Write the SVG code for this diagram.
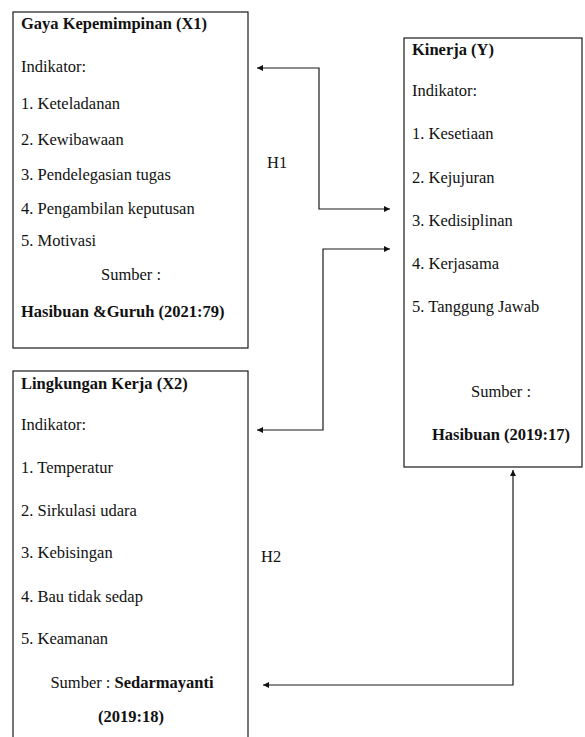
<svg xmlns="http://www.w3.org/2000/svg" width="585" height="737" viewBox="0 0 585 737">
<defs>
<style>
.box{fill:#fff;stroke:#1a1a1a;stroke-width:1.2}
.t{font-family:'Liberation Serif','Times New Roman','DejaVu Serif',serif;font-size:16.5px;fill:#111}
.b{font-weight:bold}
.c{text-anchor:middle}
.ln{fill:none;stroke:#1a1a1a;stroke-width:1.2}
</style>
<marker id="ah" viewBox="0 0 10 10" refX="10" refY="5" markerWidth="8" markerHeight="6" markerUnits="userSpaceOnUse" orient="auto-start-reverse">
<path d="M0,0 L10,5 L0,10 z" fill="#111"/>
</marker>
</defs>
<rect width="585" height="737" fill="#fff"/>
<g id="x1" class="t" font-family="Liberation Serif, serif">
<rect class="box" x="13" y="12" width="235" height="336"/>
<text class="b" x="21" y="29">Gaya Kepemimpinan (X1)</text>
<text x="21" y="72">Indikator:</text>
<text x="21" y="109">1. Keteladanan</text>
<text x="21" y="145">2. Kewibawaan</text>
<text x="21" y="180">3. Pendelegasian tugas</text>
<text x="21" y="214">4. Pengambilan keputusan</text>
<text x="21" y="246">5. Motivasi</text>
<text class="c" x="131" y="280">Sumber :</text>
<text class="b" x="21" y="317">Hasibuan &amp;Guruh (2021:79)</text>
</g>
<g id="y" class="t" font-family="Liberation Serif, serif">
<rect class="box" x="404" y="38" width="178" height="429"/>
<text class="b" x="412" y="55">Kinerja (Y)</text>
<text x="412" y="96">Indikator:</text>
<text x="412" y="139">1. Kesetiaan</text>
<text x="412" y="183">2. Kejujuran</text>
<text x="412" y="226">3. Kedisiplinan</text>
<text x="412" y="269">4. Kerjasama</text>
<text x="412" y="312">5. Tanggung Jawab</text>
<text class="c" x="501" y="397">Sumber :</text>
<text class="b c" x="501" y="440">Hasibuan (2019:17)</text>
</g>
<g id="x2" class="t" font-family="Liberation Serif, serif">
<rect class="box" x="13" y="371" width="235" height="380"/>
<text class="b" x="21" y="389">Lingkungan Kerja (X2)</text>
<text x="21" y="430">Indikator:</text>
<text x="21" y="473">1. Temperatur</text>
<text x="21" y="516">2. Sirkulasi udara</text>
<text x="21" y="558">3. Kebisingan</text>
<text x="21" y="602">4. Bau tidak sedap</text>
<text x="21" y="644">5. Keamanan</text>
<text class="c" x="132" y="688">Sumber : <tspan class="b">Sedarmayanti</tspan></text>
<text class="b c" x="131" y="722">(2019:18)</text>
</g>
<g id="connectors" class="t" font-family="Liberation Serif, serif">
<polyline class="ln" points="257,68 319,68 319,209 390,209" marker-start="url(#ah)" marker-end="url(#ah)"/>
<polyline class="ln" points="257,430 323,430 323,249 390,249" marker-start="url(#ah)" marker-end="url(#ah)"/>
<polyline class="ln" points="263,685 513,685 513,470" marker-start="url(#ah)" marker-end="url(#ah)"/>
<text x="267" y="168">H1</text>
<text x="261" y="562">H2</text>
</g>
</svg>
